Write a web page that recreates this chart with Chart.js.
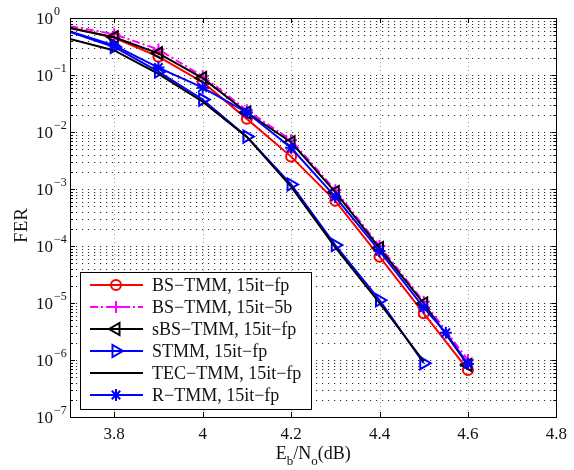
<!DOCTYPE html>
<html><head><meta charset="utf-8">
<script src="https://cdn.jsdelivr.net/npm/chart.js@4.4.0/dist/chart.umd.min.js"></script>
<style>html,body{margin:0;padding:0;background:#fff;}#wrap{width:574px;height:470px;position:relative;}</style>
</head><body><div id="wrap"><canvas id="c" width="574" height="470"></canvas></div>
<script>
// ---- data ----
const xTicks = [3.8, 4.0, 4.2, 4.4, 4.6, 4.8];
const xTickLabels = ['3.8', '4', '4.2', '4.4', '4.6', '4.8'];
const yTickExps = [0, -1, -2, -3, -4, -5, -6, -7];

const xBS = [3.7, 3.8, 3.9, 4.0, 4.1, 4.2, 4.3, 4.4, 4.5, 4.6];
const bsTmmFp = [0.68, 0.45, 0.21, 0.075, 0.017, 0.0037, 0.00062, 6.5e-5, 6.6e-6, 6.7e-7];
const bsTmm5b = [0.72, 0.52, 0.28, 0.095, 0.024, 0.0072, 0.00095, 1.0e-4, 1.05e-5, 1.0e-6];
const sbsTmmFp = [0.66, 0.46, 0.24, 0.088, 0.022, 0.0066, 0.00088, 9.2e-5, 9.8e-6, 8.2e-7];

const xST = [3.7, 3.8, 3.9, 4.0, 4.1, 4.2, 4.3, 4.4, 4.5];
const stmmFp = [0.57, 0.31, 0.115, 0.037, 0.0083, 0.0012, 0.000104, 1.12e-5, 8.8e-7];
const tecTmmFp = [0.43, 0.27, 0.105, 0.034, 0.0082, 0.0011, 9.5e-5, 1.0e-5, 9.5e-7];

const xR = [3.7, 3.8, 3.9, 4.0, 4.1, 4.2, 4.3, 4.4, 4.5, 4.55, 4.6];
const rTmmFp = [0.58, 0.33, 0.135, 0.06, 0.022, 0.0053, 0.00073, 8.2e-5, 8.3e-6, 3.0e-6, 8.5e-7];

const seriesNames = ['BS\u2212TMM, 15it\u2212fp', 'BS\u2212TMM, 15it\u22125b', 'sBS\u2212TMM, 15it\u2212fp',
  'STMM, 15it\u2212fp', 'TEC\u2212TMM, 15it\u2212fp', 'R\u2212TMM, 15it\u2212fp'];

// ---- styles ----
const FONT = '"Liberation Serif", "Times New Roman", serif';
const styles = [
  {color: '#ff0000', point: 'circle', rot: 0, r: 5, dash: []},
  {color: '#ff00ff', point: 'cross', rot: 0, r: 6, dash: [8, 3, 2, 3]},
  {color: '#000000', point: 'triangle', rot: -90, r: 7, dash: []},
  {color: '#0000ff', point: 'triangle', rot: 90, r: 7, dash: []},
  {color: '#000000', point: false, rot: 0, r: 0, dash: []},
  {color: '#0000ff', point: 'star', rot: 0, r: 6, dash: []}
];
const xs = [xBS, xBS, xBS, xST, xST, xR];
const ys = [bsTmmFp, bsTmm5b, sbsTmmFp, stmmFp, tecTmmFp, rTmmFp];

const datasets = ys.map((vals, i) => {
  const s = styles[i];
  return {
    label: seriesNames[i],
    data: vals.map((v, j) => ({x: xs[i][j], y: v})),
    borderColor: s.color,
    borderWidth: 2,
    borderDash: s.dash,
    pointStyle: s.point,
    pointRotation: s.rot,
    pointRadius: ctx => (ctx.dataIndex === 0 || !s.point) ? 0 : s.r,
    pointBorderColor: s.color,
    pointBackgroundColor: 'rgba(0,0,0,0)',
    pointBorderWidth: 2,
    fill: false,
    tension: 0,
    order: 6 - i
  };
});

function drawMarker(ctx, style, x, y) {
  const s = style;
  if (!s.point) return;
  ctx.save();
  ctx.strokeStyle = s.color; ctx.lineWidth = 2; ctx.setLineDash([]);
  ctx.beginPath();
  const r = s.r;
  if (s.point === 'circle') {
    ctx.arc(x, y, r, 0, Math.PI * 2);
  } else if (s.point === 'cross') {
    ctx.moveTo(x - r, y); ctx.lineTo(x + r, y); ctx.moveTo(x, y - r); ctx.lineTo(x, y + r);
  } else if (s.point === 'triangle') {
    let a = s.rot * Math.PI / 180;
    for (let k = 0; k < 3; k++) {
      const px = x + Math.sin(a) * r, py = y - Math.cos(a) * r;
      if (k === 0) ctx.moveTo(px, py); else ctx.lineTo(px, py);
      a += 2 * Math.PI / 3;
    }
    ctx.closePath();
  } else if (s.point === 'star') {
    for (let k = 0; k < 4; k++) {
      const a = k * Math.PI / 4;
      ctx.moveTo(x - Math.cos(a) * r, y - Math.sin(a) * r);
      ctx.lineTo(x + Math.cos(a) * r, y + Math.sin(a) * r);
    }
  }
  ctx.stroke();
  ctx.restore();
}

function minorValues() {
  const out = [];
  for (let k = -7; k < 0; k++) for (let m = 1; m <= 9; m++) out.push(m * Math.pow(10, k));
  out.push(1);
  return out;
}

const matlabPlugin = {
  id: 'matlab',
  beforeDatasetsDraw(chart) {
    const {ctx, chartArea: a, scales} = chart;
    const sx = scales.x, sy = scales.y;
    ctx.save();
    ctx.lineWidth = 1;
    // horizontal dotted grid (major + minor)
    ctx.strokeStyle = '#333';
    ctx.setLineDash([1.2, 4.8]);
    minorValues().forEach(v => {
      const y = Math.round(sy.getPixelForValue(v)) + 0.5;
      if (y <= a.top + 1 || y >= a.bottom - 1) return;
      ctx.beginPath(); ctx.moveTo(a.left, y); ctx.lineTo(a.right, y); ctx.stroke();
    });
    // vertical dotted grid
    ctx.strokeStyle = '#999';
    ctx.setLineDash([1, 3]);
    xTicks.forEach(v => {
      const x = Math.round(sx.getPixelForValue(v)) + 0.5;
      if (x <= a.left + 1 || x >= a.right - 1) return;
      ctx.beginPath(); ctx.moveTo(x, a.top); ctx.lineTo(x, a.bottom); ctx.stroke();
    });
    ctx.restore();
  },
  afterDatasetsDraw(chart) {
    const {ctx, chartArea: a, scales} = chart;
    const sx = scales.x, sy = scales.y;
    ctx.save();
    ctx.setLineDash([]);
    ctx.strokeStyle = '#000';
    ctx.lineWidth = 1;
    // ticks
    ctx.beginPath();
    xTicks.forEach(v => {
      const x = Math.round(sx.getPixelForValue(v)) + 0.5;
      ctx.moveTo(x, a.bottom); ctx.lineTo(x, a.bottom - 5);
      ctx.moveTo(x, a.top); ctx.lineTo(x, a.top + 5);
    });
    minorValues().forEach(v => {
      const y = Math.round(sy.getPixelForValue(v)) + 0.5;
      const major = Math.abs(Math.log10(v) - Math.round(Math.log10(v))) < 1e-9;
      const L = major ? 5 : 3;
      ctx.moveTo(a.left, y); ctx.lineTo(a.left + L, y);
      ctx.moveTo(a.right, y); ctx.lineTo(a.right - L, y);
    });
    ctx.stroke();
    // box
    ctx.strokeRect(Math.round(a.left) + 0.5, Math.round(a.top) + 0.5,
      Math.round(a.right - a.left), Math.round(a.bottom - a.top));

    // legend
    const bx = a.left + 10, by = a.bottom - 145, bw = 231, bh = 137;
    ctx.fillStyle = '#fff';
    ctx.fillRect(bx, by, bw, bh);
    ctx.strokeRect(Math.round(bx) + 0.5, Math.round(by) + 0.5, bw, bh);
    ctx.font = '18px ' + FONT;
    ctx.textBaseline = 'middle';
    ctx.textAlign = 'left';
    seriesNames.forEach((name, i) => {
      const y = by + 13 + i * 22;
      const s = styles[i];
      ctx.save();
      ctx.strokeStyle = s.color; ctx.lineWidth = 2; ctx.setLineDash(s.dash);
      ctx.beginPath(); ctx.moveTo(bx + 10, y); ctx.lineTo(bx + 63, y); ctx.stroke();
      ctx.restore();
      drawMarker(ctx, s, bx + 36, y);
      ctx.fillStyle = '#111';
      ctx.fillText(name, bx + 72, y + 1);
    });
    ctx.restore();
  },
  afterDraw(chart) {
    const {ctx, chartArea: a, scales} = chart;
    const sy = scales.y;
    ctx.save();
    ctx.fillStyle = '#111';
    // y tick labels 10^k
    yTickExps.forEach(e => {
      const y = sy.getPixelForValue(Math.pow(10, e));
      ctx.font = '17px ' + FONT;
      ctx.textAlign = 'right'; ctx.textBaseline = 'middle';
      ctx.fillText('10', a.left - 17, y + 2);
      ctx.font = '12px ' + FONT;
      ctx.textAlign = 'left';
      ctx.fillText(e === 0 ? '0' : '\u2212' + (-e), a.left - 16, y - 6);
    });
    // y title
    ctx.save();
    ctx.translate(22, (a.top + a.bottom) / 2 + 8);
    ctx.rotate(-Math.PI / 2);
    ctx.font = '19px ' + FONT;
    ctx.textAlign = 'center'; ctx.textBaseline = 'middle';
    ctx.fillText('FER', 0, 0);
    ctx.restore();
    // x title E_b/N_o(dB)
    const parts = [['E', 0], ['b', 1], ['/N', 0], ['o', 1], ['(dB)', 0]];
    const mainF = '18px ' + FONT, subF = '13px ' + FONT;
    let w = 0;
    parts.forEach(p => { ctx.font = p[1] ? subF : mainF; w += ctx.measureText(p[0]).width; });
    let x = (a.left + a.right) / 2 - w / 2;
    const base = 459;
    ctx.textAlign = 'left'; ctx.textBaseline = 'alphabetic';
    parts.forEach(p => {
      ctx.font = p[1] ? subF : mainF;
      ctx.fillText(p[0], x, p[1] ? base + 6 : base);
      x += ctx.measureText(p[0]).width;
    });
    ctx.restore();
  }
};

new Chart(document.getElementById('c'), {
  type: 'line',
  data: {datasets},
  plugins: [matlabPlugin],
  options: {
    responsive: false,
    animation: false,
    devicePixelRatio: 1,
    layout: {padding: {left: 0, right: 12, top: 18, bottom: 0}},
    plugins: {legend: {display: false}, tooltip: {enabled: false}},
    scales: {
      x: {
        type: 'linear', min: 3.7, max: 4.8,
        grid: {display: false, drawTicks: false},
        border: {display: false},
        afterBuildTicks: s => { s.ticks = xTicks.map(v => ({value: v})); },
        afterFit: s => { s.height = 53; },
        ticks: {
          autoSkip: false, maxRotation: 0, padding: 7,
          color: '#111', font: {family: FONT, size: 17},
          callback: (v) => { const i = xTicks.findIndex(t => Math.abs(t - v) < 1e-9); return i >= 0 ? xTickLabels[i] : ''; }
        }
      },
      y: {
        type: 'logarithmic', min: 1e-7, max: 1,
        grid: {display: false, drawTicks: false},
        border: {display: false},
        ticks: {display: false},
        afterFit: s => { s.width = 70; }
      }
    }
  }
});
</script>
</body></html>
